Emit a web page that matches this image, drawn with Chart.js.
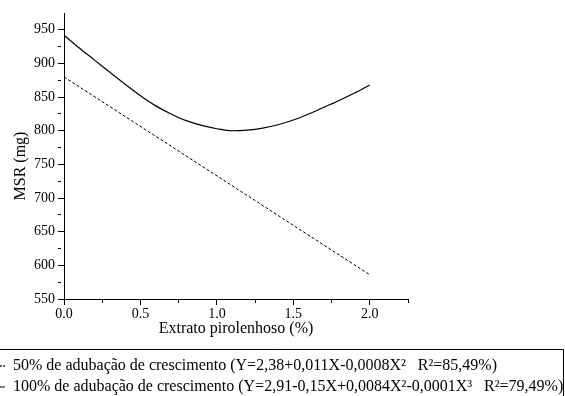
<!DOCTYPE html>
<html>
<head>
<meta charset="utf-8">
<script src="https://cdn.jsdelivr.net/npm/chart.js@4/dist/chart.umd.min.js"></script>
<style>
html, body { margin: 0; padding: 0; overflow: hidden; background: #fff; }
#wrap { position: absolute; left: -12px; top: 0; width: 577px; height: 405px; }
</style>
</head>
<body>
<div id="wrap"><canvas id="chart" width="577" height="405"></canvas></div>
<script>
// values
var xPts = [0, 0.1, 0.2, 0.3, 0.4, 0.5, 0.6, 0.7, 0.8, 0.9, 1.0,
            1.1, 1.2, 1.3, 1.4, 1.5, 1.6, 1.7, 1.8, 1.9, 2.0];
var msr100 = [942, 923, 905, 887, 869, 852, 837, 825, 815, 808, 803,
              800, 801, 804, 809, 816, 825, 835, 845, 856, 868];
var xLin = [0, 2.0];
var msr50 = [880, 586];

var label50 = "50% de adubação de crescimento (Y=2,38+0,011X-0,0008X²   R²=85,49%)";
var label100 = "100% de adubação de crescimento (Y=2,91-0,15X+0,0084X²-0,0001X³   R²=79,49%)";

var serif = "'Liberation Serif', 'Times New Roman', serif";

function pairs(xs, ys) {
  return xs.map(function(x, i) { return {x: x, y: ys[i]}; });
}

// frame around the legend (top and right edges are the visible ones)
var legendFrame = {
  id: 'legendFrame',
  afterDraw: function(chart) {
    var ctx = chart.ctx;
    var top = chart.legend.top - 4;
    ctx.save();
    ctx.strokeStyle = '#000';
    ctx.lineWidth = 1;
    ctx.beginPath();
    ctx.moveTo(0, top + 0.5);
    ctx.lineTo(575.5, top + 0.5);
    ctx.lineTo(575.5, 405);
    ctx.stroke();
    ctx.restore();
  }
};

var ctx = document.getElementById("chart");
var myChart = new Chart(ctx, {
  type: 'line',
  data: {
    datasets: [{
        label: label50,
        data: pairs(xLin, msr50),
        borderColor: '#000',
        backgroundColor: 'transparent',
        borderWidth: 1,
        borderDash: [3, 2],
        pointRadius: 0,
        fill: false
      }, {
        label: label100,
        data: pairs(xPts, msr100),
        borderColor: '#000',
        backgroundColor: 'transparent',
        borderWidth: 1.2,
        pointRadius: 0,
        cubicInterpolationMode: 'monotone',
        fill: false
      }
    ]
  },
  options: {
    responsive: false,
    animation: false,
    devicePixelRatio: 1,
    layout: { padding: { top: 13, left: 0, right: 0, bottom: 0 } },
    plugins: {
      tooltip: { enabled: false },
      legend: {
        position: 'bottom',
        align: 'start',
        labels: {
          color: '#000',
          font: { family: serif, size: 16 },
          boxWidth: 12,
          boxHeight: 0,
          padding: 5
        }
      }
    },
    scales: {
      x: {
        type: 'linear',
        min: 0,
        max: 2.25,
        afterFit: function(s) { s.height = 54; },
        border: { display: true, color: '#000', width: 1 },
        grid: {
          drawOnChartArea: false,
          drawTicks: true,
          tickLength: 6,
          color: '#000',
          tickBorderDash: function(c) {
            var v = Math.round(c.tick.value * 100);
            return (v % 50 === 0 && v <= 200) ? [] : [3, 100];
          }
        },
        ticks: {
          stepSize: 0.25,
          color: '#000',
          padding: 1,
          maxRotation: 0,
          autoSkip: false,
          font: { family: serif, size: 14 },
          callback: function(v) {
            var n = Math.round(v * 100);
            return (n % 50 === 0 && n <= 200) ? (n / 100).toFixed(1) : '';
          }
        },
        title: {
          display: true,
          text: 'Extrato pirolenhoso (%)',
          color: '#000',
          font: { family: serif, size: 16 },
          padding: { top: 4, bottom: 15 }
        }
      },
      y: {
        min: 550,
        max: 975,
        afterFit: function(s) { s.width = 76; },
        border: { display: true, color: '#000', width: 1 },
        grid: {
          drawOnChartArea: false,
          drawTicks: true,
          tickLength: 6,
          color: function(c) {
            return c.tick && c.tick.value >= 975 ? 'rgba(0,0,0,0)' : '#000';
          },
          tickBorderDash: function(c) {
            return c.tick.value % 50 === 0 ? [] : [3, 100];
          }
        },
        ticks: {
          stepSize: 25,
          color: '#000',
          padding: 3,
          autoSkip: false,
          font: { family: serif, size: 14 },
          callback: function(v) {
            return (v % 50 === 0 && v <= 950) ? v : '';
          }
        },
        title: {
          display: true,
          text: 'MSR (mg)     ',
          color: '#000',
          font: { family: serif, size: 16 },
          padding: { top: 23, bottom: 4 }
        }
      },
      yR: {
        position: 'right',
        display: true,
        afterFit: function(s) { s.width = 157; },
        border: { display: false },
        grid: { display: false },
        ticks: { display: false }
      }
    }
  },
  plugins: [legendFrame]
});
</script>
</body>
</html>
